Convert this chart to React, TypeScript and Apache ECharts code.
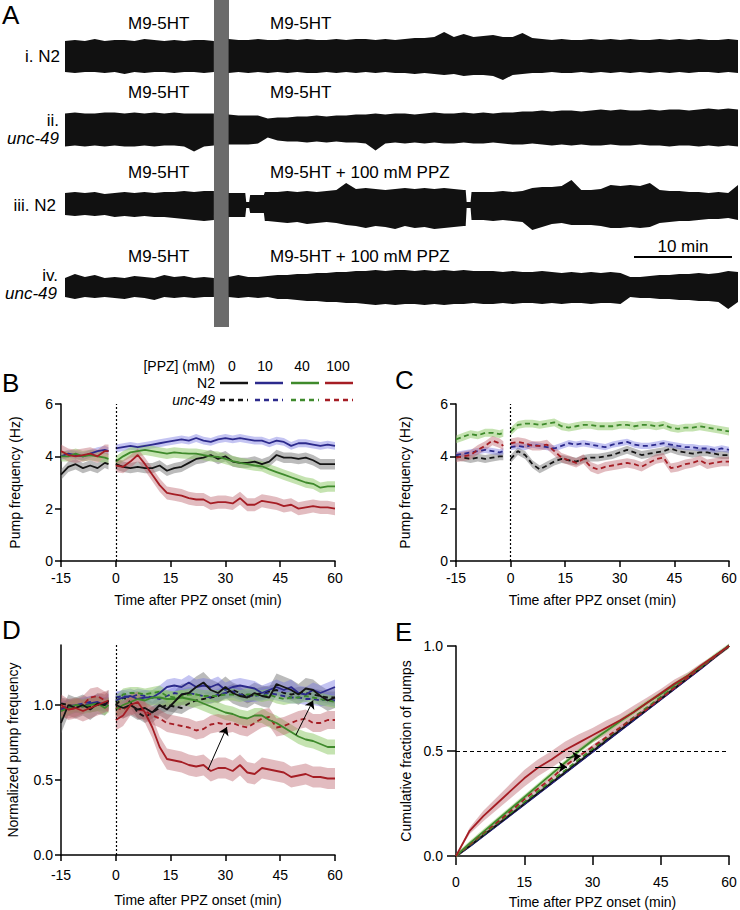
import React, { useEffect, useRef } from "react";
import * as echarts from "echarts";

const FONT = "'Liberation Sans', Arial, Helvetica, sans-serif";

// ---------------- Panel A: recording envelopes (amplitude, a.u.) ----------------
const TRACE_LEFT_T = [0, 1.01, 2.03, 3.04, 4.05, 5.07, 6.08, 7.09, 8.11, 9.12, 10.13, 11.15, 12.16, 13.17, 14.19, 15.2];
const TRACE_RIGHT_T = Array.from({ length: 53 }, (_, i) => Math.round((16.7 + i) * 10) / 10);

const T1_L_TOP = [15, 16, 15, 17, 15, 16, 16, 15, 17, 16, 15, 16, 15, 16, 16, 15];
const T1_L_BOT = [16, 17, 16, 16, 17, 16, 18, 16, 17, 16, 16, 17, 16, 16, 17, 16];
const T1_R_TOP = [17, 16, 16, 17, 16, 16, 17, 16, 17, 16, 16, 17, 16, 17, 17, 16, 17, 16, 17,
  18, 18, 19, 24, 19, 22, 19, 20, 21, 19, 19, 23, 18,
  17, 16, 17, 16, 16, 17, 16, 17, 16, 17, 16, 16, 17, 16, 17, 16, 17, 16, 16, 17, 16];
const T1_R_BOT = [17, 16, 17, 16, 17, 16, 17, 16, 17, 17, 16, 17, 16, 17, 16, 17, 16, 17, 17,
  18, 17, 18, 19, 18, 20, 19, 19, 20, 24, 19, 18, 17,
  17, 16, 17, 17, 16, 17, 16, 17, 16, 17, 16, 17, 16, 17, 16, 17, 16, 16, 17, 16, 17];

const T2_L_TOP = [16, 17, 16, 16, 17, 17, 16, 17, 16, 17, 16, 17, 16, 16, 16, 16];
const T2_L_BOT = [17, 16, 17, 16, 17, 16, 17, 17, 16, 17, 16, 16, 17, 22, 17, 16];
const T2_R_TOP = [15, 14, 14, 14, 11, 12, 12, 13, 13, 14, 13, 14, 14,
  15, 15, 16, 15, 16, 16, 15, 16, 17, 16, 16, 17, 16, 17, 16,
  17, 17, 18, 18, 19, 18, 19, 19, 18, 19, 20, 19, 20, 19, 19, 20, 19, 20, 20, 19, 20, 21, 20, 21, 20];
const T2_R_BOT = [15, 15, 15, 14, 8, 11, 12, 12, 13, 12, 13, 12, 13,
  13, 14, 21, 14, 13, 14, 13, 14, 13, 14, 14, 13, 14, 14, 13,
  14, 15, 15, 14, 15, 16, 15, 16, 15, 16, 16, 15, 16, 16, 15, 16, 16, 17, 16, 16, 17, 16, 17, 16, 17];

const T3_L_TOP = [12, 13, 12, 13, 11, 12, 13, 12, 13, 12, 13, 13, 14, 13, 14, 14];
const T3_L_BOT = [10, 11, 10, 11, 10, 12, 11, 12, 11, 12, 12, 13, 14, 15, 16, 15];
// trace iii has brief pauses, so its right part is sampled more finely around them
const T3_R_T = [16.7, 17.7, 18.4, 18.5, 18.8, 18.9, 19.7, 20.3, 20.4, 20.7,
  21.7, 22.7, 23.7, 24.7, 25.7, 26.7, 27.7, 28.7, 29.7, 30.7, 31.7, 32.7, 33.7, 34.7, 35.7, 36.7, 37.7, 38.7, 39.7,
  40.7, 40.9, 41.0, 41.4, 41.5,
  42.7, 43.7, 44.7, 45.7, 46.7, 47.7, 48.7, 49.7, 50.7, 51.7, 52.7, 53.7, 54.7, 55.7, 56.7, 57.7, 58.7, 59.7, 60.7, 61.7, 62.7, 63.7, 64.7, 65.7, 66.7, 67.7, 68.7];
const T3_R_TOP = [12, 12, 12, 3, 3, 10, 10, 10, 13, 13,
  13, 14, 13, 14, 13, 14, 15, 22, 16, 17, 16, 15, 16, 17, 16, 17, 16, 17, 16,
  15, 15, 3, 3, 13,
  13, 13, 14, 13, 14, 17, 18, 18, 19, 25, 15, 15, 16, 20, 19, 20, 19, 22, 15, 14, 14, 13, 13, 12, 13, 12, 20];
const T3_R_BOT = [12, 12, 12, 3, 3, 8, 8, 8, 16, 16,
  17, 18, 17, 19, 18, 17, 18, 20, 21, 23, 21, 22, 24, 21, 23, 22, 24, 23, 22,
  21, 21, 3, 3, 15,
  15, 16, 15, 16, 17, 25, 22, 19, 18, 20, 20, 20, 21, 23, 23, 22, 23, 22, 18, 17, 16, 16, 15, 14, 14, 13, 15];

const T4_L_TOP = [9, 13, 10, 12, 9, 10, 9, 11, 10, 9, 12, 10, 11, 9, 10, 9];
const T4_L_BOT = [10, 12, 10, 11, 10, 11, 12, 10, 11, 13, 10, 11, 10, 11, 10, 10];
const T4_R_TOP = [10, 12, 10, 10, 11, 12, 12, 13, 13, 14, 14, 15, 15, 16,
  16, 17, 16, 17, 17, 16, 17, 16, 17, 16, 17, 16, 16,
  16, 15, 16, 15, 15, 16, 15, 14, 15, 14, 15, 14, 15, 14,
  10, 10, 11, 12, 12, 13, 13, 14, 13, 14, 16, 15];
const T4_R_BOT = [10, 11, 10, 11, 10, 12, 12, 13, 14, 14, 15, 15, 16, 16,
  17, 18, 17, 18, 17, 17, 18, 17, 18, 17, 17, 16, 17,
  17, 16, 17, 16, 16, 17, 16, 17, 16, 16, 17, 16, 16, 17,
  10, 11, 11, 12, 12, 13, 13, 14, 14, 15, 22, 15];

// ---------------- Panels B-D: time grid ----------------
const PRE_T = [-15, -13, -11, -9, -7, -5, -3, -2];
const POST_T = [0, 2, 4, 6, 8, 10, 12, 14, 16, 18, 20, 22, 24, 26, 28, 30, 32, 34, 36, 38, 40, 42, 44, 46, 48, 50, 52, 54, 56, 58, 60];
const X_TICKS = [-15, 0, 15, 30, 45, 60];

// Panel B: N2 pump frequency (Hz), PPZ 0 / 10 / 40 / 100 mM
const B_N2_0_PRE = [3.3, 3.6, 3.7, 3.55, 3.65, 3.55, 3.75, 3.7];
const B_N2_0_POST = [3.7, 3.6, 3.55, 3.6, 3.55, 3.55, 3.65, 3.45, 3.55, 3.6, 3.75, 3.9, 3.95, 4.05, 3.9, 4.0, 3.8, 3.75, 3.75, 3.8, 3.7, 3.8, 4.05, 3.95, 3.95, 3.9, 3.95, 3.85, 3.7, 3.7, 3.7];
const B_N2_10_PRE = [4.0, 4.1, 4.05, 4.0, 4.1, 4.2, 4.25, 4.2];
const B_N2_10_POST = [4.3, 4.35, 4.4, 4.35, 4.4, 4.45, 4.5, 4.55, 4.6, 4.65, 4.6, 4.7, 4.6, 4.55, 4.65, 4.7, 4.65, 4.7, 4.65, 4.6, 4.6, 4.5, 4.6, 4.55, 4.4, 4.5, 4.5, 4.45, 4.4, 4.45, 4.4];
const B_N2_40_PRE = [4.0, 4.0, 4.1, 4.0, 4.05, 4.0, 3.95, 3.9];
const B_N2_40_POST = [3.8, 4.0, 4.15, 4.2, 4.25, 4.2, 4.15, 4.1, 4.15, 4.12, 4.1, 4.1, 4.05, 4.0, 3.98, 3.9, 3.82, 3.75, 3.7, 3.65, 3.62, 3.5, 3.4, 3.3, 3.2, 3.1, 3.0, 2.95, 2.8, 2.85, 2.85];
const B_N2_100_PRE = [4.2, 4.05, 4.0, 4.05, 4.1, 4.0, 4.2, 4.2];
const B_N2_100_POST = [3.65, 3.6, 3.8, 4.05, 3.7, 3.3, 2.9, 2.6, 2.55, 2.5, 2.4, 2.35, 2.35, 2.2, 2.25, 2.25, 2.2, 2.4, 2.15, 2.15, 2.3, 2.25, 2.2, 2.1, 2.15, 2.0, 2.05, 2.1, 2.05, 2.05, 2.0];
const B_SEM = [0.2, 0.15, 0.2, 0.25];

// Panel C: unc-49 pump frequency (Hz)
const C_U_0_PRE = [4.0, 3.95, 3.9, 3.95, 3.9, 3.95, 4.0, 4.0];
const C_U_0_POST = [3.9, 4.2, 4.05, 3.7, 3.5, 3.65, 3.8, 3.9, 3.85, 3.8, 3.9, 3.95, 3.95, 4.0, 4.05, 4.15, 4.25, 4.15, 4.05, 4.1, 4.15, 4.2, 4.3, 4.2, 4.15, 4.1, 4.15, 4.15, 4.1, 4.05, 4.05];
const C_U_10_PRE = [4.05, 4.1, 4.15, 4.2, 4.25, 4.2, 4.15, 4.2];
const C_U_10_POST = [4.35, 4.4, 4.35, 4.45, 4.4, 4.35, 4.3, 4.4, 4.5, 4.45, 4.5, 4.45, 4.4, 4.35, 4.45, 4.5, 4.55, 4.45, 4.4, 4.4, 4.45, 4.5, 4.45, 4.4, 4.35, 4.35, 4.3, 4.3, 4.25, 4.3, 4.25];
const C_U_40_PRE = [4.65, 4.75, 4.85, 4.8, 4.9, 4.9, 4.85, 4.9];
const C_U_40_POST = [4.95, 5.2, 5.25, 5.25, 5.2, 5.25, 5.3, 5.15, 5.1, 5.15, 5.2, 5.2, 5.15, 5.15, 5.15, 5.2, 5.2, 5.15, 5.2, 5.2, 5.15, 5.2, 5.1, 5.05, 5.1, 5.1, 5.15, 5.1, 5.05, 5.0, 4.95];
const C_U_100_PRE = [3.95, 4.0, 4.05, 4.25, 4.4, 4.6, 4.5, 4.4];
const C_U_100_POST = [4.5, 4.55, 4.5, 4.4, 4.4, 4.45, 4.2, 3.95, 3.85, 3.75, 3.9, 3.6, 3.5, 3.6, 3.65, 3.7, 3.75, 3.7, 3.6, 3.75, 3.9, 3.95, 3.55, 3.6, 3.7, 3.75, 3.85, 3.7, 3.75, 3.8, 3.8];
const C_SEM = [0.15, 0.12, 0.15, 0.18];

// Panel D: normalized pump frequency
const D_N2_0_PRE = [0.88, 1.0, 0.98, 1.0, 0.97, 1.01, 1.0, 1.03];
const D_N2_0_POST = [1.0, 0.98, 1.0, 0.97, 0.98, 0.95, 1.0, 0.97, 1.02, 1.07, 1.08, 1.12, 1.15, 1.1, 1.08, 1.12, 1.08, 1.06, 1.05, 1.08, 1.06, 1.05, 1.14, 1.12, 1.1, 1.07, 1.11, 1.1, 1.06, 1.03, 1.05];
const D_N2_10_PRE = [0.97, 0.98, 1.0, 0.99, 1.01, 1.02, 1.0, 1.03];
const D_N2_10_POST = [1.03, 1.05, 1.06, 1.04, 1.05, 1.05, 1.08, 1.12, 1.13, 1.12, 1.15, 1.12, 1.13, 1.12, 1.14, 1.1, 1.12, 1.13, 1.12, 1.11, 1.08, 1.1, 1.12, 1.1, 1.12, 1.08, 1.07, 1.1, 1.08, 1.1, 1.12];
const D_N2_40_PRE = [0.96, 0.98, 1.0, 0.99, 1.0, 1.01, 0.98, 1.0];
const D_N2_40_POST = [0.97, 1.0, 1.02, 1.04, 1.03, 1.05, 1.05, 1.04, 1.04, 1.05, 1.04, 1.03, 1.01, 0.99, 0.97, 0.95, 0.94, 0.92, 0.91, 0.93, 0.93, 0.9, 0.88, 0.85, 0.82, 0.79, 0.77, 0.76, 0.74, 0.72, 0.72];
const D_N2_100_PRE = [1.0, 0.97, 0.98, 0.96, 0.98, 1.0, 1.02, 1.03];
const D_N2_100_POST = [0.9, 0.93, 1.0, 1.02, 0.95, 0.85, 0.72, 0.64, 0.63, 0.62, 0.6, 0.59, 0.6, 0.56, 0.58, 0.58, 0.56, 0.6, 0.55, 0.54, 0.58, 0.57, 0.56, 0.55, 0.52, 0.53, 0.54, 0.52, 0.52, 0.51, 0.51];
const D_U_0_PRE = [1.01, 1.0, 0.99, 1.0, 0.99, 1.0, 1.01, 1.01];
const D_U_0_POST = [1.0, 1.05, 1.02, 0.95, 0.92, 0.95, 0.98, 1.0, 0.99, 0.98, 1.01, 1.03, 1.04, 1.05, 1.06, 1.08, 1.1, 1.08, 1.05, 1.07, 1.08, 1.09, 1.1, 1.08, 1.07, 1.08, 1.08, 1.07, 1.06, 1.05, 1.05];
const D_U_10_PRE = [0.98, 0.99, 1.0, 1.01, 1.02, 1.01, 1.0, 1.01];
const D_U_10_POST = [1.05, 1.06, 1.05, 1.07, 1.06, 1.05, 1.04, 1.06, 1.08, 1.07, 1.08, 1.07, 1.06, 1.05, 1.07, 1.08, 1.09, 1.07, 1.06, 1.06, 1.07, 1.08, 1.07, 1.06, 1.05, 1.05, 1.04, 1.04, 1.03, 1.04, 1.03];
const D_U_40_PRE = [0.96, 0.98, 1.0, 0.99, 1.01, 1.01, 1.0, 1.01];
const D_U_40_POST = [1.02, 1.07, 1.08, 1.08, 1.07, 1.08, 1.09, 1.06, 1.05, 1.06, 1.07, 1.07, 1.06, 1.06, 1.06, 1.07, 1.07, 1.06, 1.07, 1.07, 1.06, 1.07, 1.05, 1.04, 1.05, 1.05, 1.06, 1.05, 1.04, 1.03, 1.02];
const D_U_100_PRE = [0.98, 0.97, 0.98, 1.0, 1.05, 1.06, 1.03, 1.01];
const D_U_100_POST = [0.98, 0.97, 1.0, 0.97, 0.96, 0.93, 0.91, 0.88, 0.87, 0.86, 0.85, 0.83, 0.84, 0.87, 0.88, 0.87, 0.88, 0.86, 0.85, 0.88, 0.91, 0.92, 0.85, 0.86, 0.88, 0.9, 0.91, 0.88, 0.88, 0.9, 0.9];
const D_SEM_N2 = [0.07, 0.05, 0.05, 0.07];
const D_SEM_U = [0.04, 0.04, 0.04, 0.06];
const D_ARROWS = [[[25.2, 0.567], [30.4, 0.853]], [[49.3, 0.8], [54.0, 1.03]]];

// Panel E: cumulative fraction of pumps
const E_T = [0, 3, 6, 9, 12, 15, 18, 21, 24, 27, 30, 33, 36, 39, 42, 45, 48, 51, 54, 57, 60];
const E_N2_0 = [0, 0.048, 0.098, 0.148, 0.198, 0.248, 0.298, 0.348, 0.398, 0.448, 0.498, 0.548, 0.598, 0.648, 0.698, 0.748, 0.798, 0.848, 0.898, 0.95, 1.0];
const E_N2_10 = [0, 0.045, 0.095, 0.145, 0.195, 0.245, 0.295, 0.345, 0.395, 0.445, 0.495, 0.545, 0.595, 0.645, 0.695, 0.745, 0.795, 0.845, 0.895, 0.948, 1.0];
const E_N2_40 = [0, 0.06, 0.115, 0.17, 0.225, 0.28, 0.335, 0.39, 0.445, 0.5, 0.55, 0.595, 0.64, 0.685, 0.73, 0.77, 0.815, 0.86, 0.905, 0.955, 1.0];
const E_N2_100 = [0, 0.12, 0.19, 0.25, 0.31, 0.37, 0.42, 0.46, 0.505, 0.54, 0.575, 0.61, 0.645, 0.685, 0.73, 0.775, 0.82, 0.86, 0.91, 0.955, 1.0];
const E_U_0 = [0, 0.05, 0.1, 0.15, 0.2, 0.252, 0.302, 0.352, 0.402, 0.452, 0.503, 0.553, 0.603, 0.652, 0.702, 0.752, 0.802, 0.851, 0.901, 0.951, 1.0];
const E_U_10 = [0, 0.047, 0.097, 0.147, 0.197, 0.247, 0.297, 0.347, 0.397, 0.447, 0.497, 0.547, 0.597, 0.647, 0.697, 0.747, 0.797, 0.847, 0.897, 0.949, 1.0];
const E_U_40 = [0, 0.052, 0.103, 0.155, 0.206, 0.257, 0.308, 0.359, 0.409, 0.46, 0.51, 0.56, 0.61, 0.66, 0.708, 0.757, 0.806, 0.855, 0.904, 0.952, 1.0];
const E_U_100 = [0, 0.055, 0.11, 0.16, 0.215, 0.27, 0.32, 0.37, 0.43, 0.475, 0.52, 0.565, 0.61, 0.655, 0.7, 0.75, 0.8, 0.85, 0.9, 0.95, 1.0];
const E_N2_100_SEM = [0, 0.015, 0.025, 0.03, 0.035, 0.04, 0.04, 0.04, 0.04, 0.04, 0.035, 0.035, 0.03, 0.03, 0.025, 0.02, 0.02, 0.015, 0.01, 0.005, 0];
const E_SEM_OTHER = [0.008, 0.008, 0.012, 0.008, 0.008, 0.008, 0.01];
const E_ARROWS = [[[17.4, 0.424], [24.4, 0.424]], [[24.2, 0.468], [27.4, 0.476]]];

const LEGEND_DOSES = ["0", "10", "40", "100"];

// ---------------- styling ----------------
const COLORS = ["#141414", "#2c2a8c", "#3f8a2c", "#a51d24"];
const BANDS = ["rgba(105,105,105,0.45)", "rgba(115,115,225,0.42)", "rgba(140,200,100,0.5)", "rgba(185,95,105,0.42)"];
const TRACE_COLOR = "#111111";

function envelope(gi: number, times: number[], top: number[], bot: number[]) {
  return {
    type: "custom",
    xAxisIndex: gi,
    yAxisIndex: gi,
    silent: true,
    z: 2,
    data: [[times[0], 0]],
    renderItem: (_p: any, api: any) => {
      const pts: number[][] = [];
      for (let k = 0; k < times.length; k++) pts.push(api.coord([times[k], top[k]]));
      for (let k = times.length - 1; k >= 0; k--) pts.push(api.coord([times[k], -bot[k]]));
      return { type: "polygon", shape: { points: pts }, style: { fill: TRACE_COLOR } };
    },
  };
}

function band(gi: number, times: number[], mean: number[], sem: number | number[], color: string) {
  const s = (k: number) => (Array.isArray(sem) ? sem[k] : sem);
  return {
    type: "custom",
    xAxisIndex: gi,
    yAxisIndex: gi,
    silent: true,
    z: 1,
    data: [[times[0], mean[0]]],
    renderItem: (_p: any, api: any) => {
      const pts: number[][] = [];
      for (let k = 0; k < times.length; k++) pts.push(api.coord([times[k], mean[k] + s(k)]));
      for (let k = times.length - 1; k >= 0; k--) pts.push(api.coord([times[k], mean[k] - s(k)]));
      return { type: "polygon", shape: { points: pts }, style: { fill: color } };
    },
  };
}

function line(gi: number, times: number[], vals: number[], color: string, dashed: boolean, extra: any = {}) {
  return {
    type: "line",
    xAxisIndex: gi,
    yAxisIndex: gi,
    data: times.map((t, k) => [t, vals[k]]),
    showSymbol: false,
    symbol: "none",
    silent: true,
    z: 3,
    lineStyle: { color, width: 1.8, type: dashed ? [5, 3.5] : "solid" },
    ...extra,
  };
}

const zeroLine = {
  markLine: {
    silent: true,
    symbol: "none",
    label: { show: false },
    lineStyle: { color: "#000", width: 1.2, type: [2, 2] },
    data: [{ xAxis: 0 }],
  },
};

function arrows(list: number[][][]) {
  return {
    silent: true,
    symbol: ["none", "arrow"],
    symbolSize: 8,
    label: { show: false },
    lineStyle: { color: "#000", width: 1, type: "solid" },
    data: list.map((a) => [{ coord: a[0] }, { coord: a[1] }]),
  };
}

function axisX(gi: number, min: number, name: string, margin: number, nameGap: number, tickLen: number) {
  return {
    gridIndex: gi,
    type: "value",
    min,
    max: 60,
    interval: 15,
    axisLine: { show: true, onZero: false, lineStyle: { color: "#000", width: 1.5 } },
    axisTick: { show: true, length: tickLen, lineStyle: { color: "#000", width: 1.5 } },
    axisLabel: { color: "#000", fontSize: 14, fontFamily: FONT, margin },
    splitLine: { show: false },
    name,
    nameLocation: "middle",
    nameGap,
    nameTextStyle: { color: "#000", fontSize: 14, fontFamily: FONT },
  };
}

function axisY(gi: number, min: number, max: number, interval: number, name: string, nameGap: number, margin: number, tickLen: number, fmt: (v: number) => string, custom?: number[]) {
  const ax: any = {
    gridIndex: gi,
    type: "value",
    min,
    max,
    interval,
    axisLine: { show: true, onZero: false, lineStyle: { color: "#000", width: 1.5 } },
    axisTick: { show: true, length: tickLen, lineStyle: { color: "#000", width: 1.5 } },
    axisLabel: { color: "#000", fontSize: 14, fontFamily: FONT, margin, formatter: fmt },
    splitLine: { show: false },
    name,
    nameLocation: "middle",
    nameGap,
    nameRotate: 90,
    nameTextStyle: { color: "#000", fontSize: 14, fontFamily: FONT },
  };
  if (custom) {
    ax.axisTick.customValues = custom;
    ax.axisLabel.customValues = custom;
  }
  return ax;
}

function txt(x: number, y: number, text: string, size = 14, align = "left", italic = false) {
  return {
    type: "text",
    x,
    y,
    silent: true,
    style: {
      text,
      fill: "#000",
      fontSize: size,
      fontFamily: FONT,
      fontStyle: italic ? "italic" : "normal",
      align,
      textAlign: align,
      verticalAlign: "middle",
      textVerticalAlign: "middle",
    },
  };
}

function seg(x1: number, x2: number, y: number, color: string, dashed: boolean) {
  return {
    type: "line",
    silent: true,
    shape: { x1, y1: y, x2, y2: y },
    style: { stroke: color, lineWidth: 2.5, lineDash: dashed ? [5, 4] : null },
  };
}

function buildOption() {
  const series: any[] = [];

  // Panel A
  const traces = [
    [TRACE_RIGHT_T, T1_L_TOP, T1_L_BOT, T1_R_TOP, T1_R_BOT],
    [TRACE_RIGHT_T, T2_L_TOP, T2_L_BOT, T2_R_TOP, T2_R_BOT],
    [T3_R_T, T3_L_TOP, T3_L_BOT, T3_R_TOP, T3_R_BOT],
    [TRACE_RIGHT_T, T4_L_TOP, T4_L_BOT, T4_R_TOP, T4_R_BOT],
  ];
  traces.forEach((tr, g) => {
    series.push(envelope(g, TRACE_LEFT_T, tr[1], tr[2]));
    series.push(envelope(g, tr[0], tr[3], tr[4]));
  });

  // Panel B (grid 4)
  const bPre = [B_N2_0_PRE, B_N2_10_PRE, B_N2_40_PRE, B_N2_100_PRE];
  const bPost = [B_N2_0_POST, B_N2_10_POST, B_N2_40_POST, B_N2_100_POST];
  for (let i = 0; i < 4; i++) {
    series.push(band(4, PRE_T, bPre[i], B_SEM[i], BANDS[i]));
    series.push(band(4, POST_T, bPost[i], B_SEM[i], BANDS[i]));
  }
  for (let i = 0; i < 4; i++) {
    series.push(line(4, PRE_T, bPre[i], COLORS[i], false));
    series.push(line(4, POST_T, bPost[i], COLORS[i], false, i === 0 ? zeroLine : {}));
  }

  // Panel C (grid 5)
  const cPre = [C_U_0_PRE, C_U_10_PRE, C_U_40_PRE, C_U_100_PRE];
  const cPost = [C_U_0_POST, C_U_10_POST, C_U_40_POST, C_U_100_POST];
  for (let i = 0; i < 4; i++) {
    series.push(band(5, PRE_T, cPre[i], C_SEM[i], BANDS[i]));
    series.push(band(5, POST_T, cPost[i], C_SEM[i], BANDS[i]));
  }
  for (let i = 0; i < 4; i++) {
    series.push(line(5, PRE_T, cPre[i], COLORS[i], true));
    series.push(line(5, POST_T, cPost[i], COLORS[i], true, i === 0 ? zeroLine : {}));
  }

  // Panel D (grid 6)
  const dN2Pre = [D_N2_0_PRE, D_N2_10_PRE, D_N2_40_PRE, D_N2_100_PRE];
  const dN2Post = [D_N2_0_POST, D_N2_10_POST, D_N2_40_POST, D_N2_100_POST];
  const dUPre = [D_U_0_PRE, D_U_10_PRE, D_U_40_PRE, D_U_100_PRE];
  const dUPost = [D_U_0_POST, D_U_10_POST, D_U_40_POST, D_U_100_POST];
  for (let i = 0; i < 4; i++) {
    series.push(band(6, PRE_T, dUPre[i], D_SEM_U[i], BANDS[i]));
    series.push(band(6, POST_T, dUPost[i], D_SEM_U[i], BANDS[i]));
    series.push(band(6, PRE_T, dN2Pre[i], D_SEM_N2[i], BANDS[i]));
    series.push(band(6, POST_T, dN2Post[i], D_SEM_N2[i], BANDS[i]));
  }
  for (let i = 0; i < 4; i++) {
    series.push(line(6, PRE_T, dUPre[i], COLORS[i], true));
    series.push(line(6, POST_T, dUPost[i], COLORS[i], true, i === 0 ? zeroLine : {}));
  }
  [1, 2, 0, 3].forEach((i) => {
    series.push(line(6, PRE_T, dN2Pre[i], COLORS[i], false));
    series.push(line(6, POST_T, dN2Post[i], COLORS[i], false, i === 3 ? { markLine: arrows(D_ARROWS) } : {}));
  });

  // Panel E (grid 7)
  const eN2 = [E_N2_0, E_N2_10, E_N2_40, E_N2_100];
  const eU = [E_U_0, E_U_10, E_U_40, E_U_100];
  series.push(band(7, E_T, E_N2_100, E_N2_100_SEM, BANDS[3]));
  series.push(band(7, E_T, E_N2_40, E_SEM_OTHER[2], BANDS[2]));
  series.push(band(7, E_T, E_N2_0, E_SEM_OTHER[0], BANDS[0]));
  series.push(band(7, E_T, E_U_0, E_SEM_OTHER[3], BANDS[0]));
  series.push(band(7, E_T, E_U_100, E_SEM_OTHER[6], BANDS[3]));
  [1, 0].forEach((i) => series.push(line(7, E_T, eN2[i], COLORS[i], false)));
  [1, 0, 2, 3].forEach((i) => series.push(line(7, E_T, eU[i], COLORS[i], true)));
  series.push(line(7, E_T, eN2[2], COLORS[2], false));
  series.push(
    line(7, E_T, eN2[3], COLORS[3], false, {
      markLine: {
        silent: true,
        symbol: "none",
        label: { show: false },
        lineStyle: { color: "#000", width: 1, type: [4, 3] },
        data: [{ yAxis: 0.5 }],
      },
    })
  );
  series.push({
    type: "line",
    xAxisIndex: 7,
    yAxisIndex: 7,
    data: [],
    silent: true,
    z: 5,
    markLine: arrows(E_ARROWS),
  });

  const grids = [
    { left: 65, top: 34, width: 673, height: 44 },
    { left: 65, top: 107.5, width: 673, height: 44 },
    { left: 65, top: 183, width: 673, height: 44 },
    { left: 65, top: 265, width: 673, height: 44 },
    { left: 61, top: 404, width: 274, height: 157 },
    { left: 456, top: 404, width: 273, height: 157 },
    { left: 61, top: 645, width: 274, height: 210 },
    { left: 456, top: 646, width: 273, height: 210 },
  ];

  const xAxis: any[] = [];
  const yAxis: any[] = [];
  for (let g = 0; g < 4; g++) {
    xAxis.push({ gridIndex: g, type: "value", min: 0, max: 68.7, show: false });
    yAxis.push({ gridIndex: g, type: "value", min: -22, max: 22, show: false });
  }
  const T = "Time after PPZ onset (min)";
  xAxis.push(axisX(4, X_TICKS[0], T, 10, 32, 6));
  xAxis.push(axisX(5, X_TICKS[0], T, 10, 32, 6));
  xAxis.push(axisX(6, X_TICKS[0], T, 13, 38, 6));
  xAxis.push(axisX(7, 0, T, 19, 39, 9));
  const intFmt = (v: number) => String(v);
  const decFmt = (v: number) => v.toFixed(1);
  yAxis.push(axisY(4, 0, 6, 2, "Pump frequency (Hz)", 39, 8, 6, intFmt));
  yAxis.push(axisY(5, 0, 6, 2, "Pump frequency (Hz)", 44, 8, 6, intFmt));
  yAxis.push(axisY(6, 0, 1.4, 0.5, "Normalized pump frequency", 41, 8, 6, decFmt, [0, 0.5, 1.0]));
  yAxis.push(axisY(7, 0, 1, 0.5, "Cumulative fraction of pumps", 43, 13, 9, decFmt));

  const graphic: any[] = [
    { type: "rect", silent: true, shape: { x: 214, y: 0, width: 15, height: 327 }, style: { fill: "#6b6b6b" } },
    txt(2, 15, "A", 26),
    txt(128, 23, "M9-5HT", 17),
    txt(270, 23, "M9-5HT", 17),
    txt(128, 92, "M9-5HT", 17),
    txt(270, 92, "M9-5HT", 17),
    txt(128, 172, "M9-5HT", 17),
    txt(270, 172, "M9-5HT + 100 mM PPZ", 17),
    txt(128, 256, "M9-5HT", 17),
    txt(270, 256, "M9-5HT + 100 mM PPZ", 17),
    txt(60, 56, "i. N2", 17, "right"),
    txt(59, 120, "ii.", 17, "right"),
    txt(59, 138, "unc-49", 17, "right", true),
    txt(56, 205, "iii. N2", 17, "right"),
    txt(58, 275, "iv.", 17, "right"),
    txt(57, 293, "unc-49", 17, "right", true),
    txt(683, 246, "10 min", 17, "center"),
    { type: "line", silent: true, shape: { x1: 634, y1: 257, x2: 732, y2: 257 }, style: { stroke: "#000", lineWidth: 2 } },
    txt(2, 383, "B", 26),
    txt(395, 380, "C", 26),
    txt(2, 630, "D", 26),
    txt(395, 632, "E", 26),
    txt(215, 366, "[PPZ] (mM)", 14, "right"),
    txt(232, 366, LEGEND_DOSES[0], 14, "center"),
    txt(265, 366, LEGEND_DOSES[1], 14, "center"),
    txt(302, 366, LEGEND_DOSES[2], 14, "center"),
    txt(338, 366, LEGEND_DOSES[3], 14, "center"),
    txt(215, 383, "N2", 14, "right"),
    txt(215, 400, "unc-49", 14, "right", true),
  ];
  const segX = [[220, 248], [255, 283], [291, 319], [325, 353]];
  segX.forEach((sx, i) => {
    graphic.push(seg(sx[0], sx[1], 383, COLORS[i], false));
    graphic.push(seg(sx[0], sx[1], 400, COLORS[i], true));
  });

  return {
    animation: false,
    backgroundColor: "#ffffff",
    textStyle: { fontFamily: FONT },
    grid: grids,
    xAxis,
    yAxis,
    series,
    graphic,
  };
}

export default function App() {
  const ref = useRef<HTMLDivElement>(null);
  useEffect(() => {
    if (!ref.current) return;
    const chart = echarts.init(ref.current, null, { renderer: "svg" });
    chart.setOption(buildOption() as any);
    return () => chart.dispose();
  }, []);
  return <div ref={ref} style={{ position: "absolute", left: 0, top: 0, width: 740, height: 910, background: "#fff" }} />;
}
